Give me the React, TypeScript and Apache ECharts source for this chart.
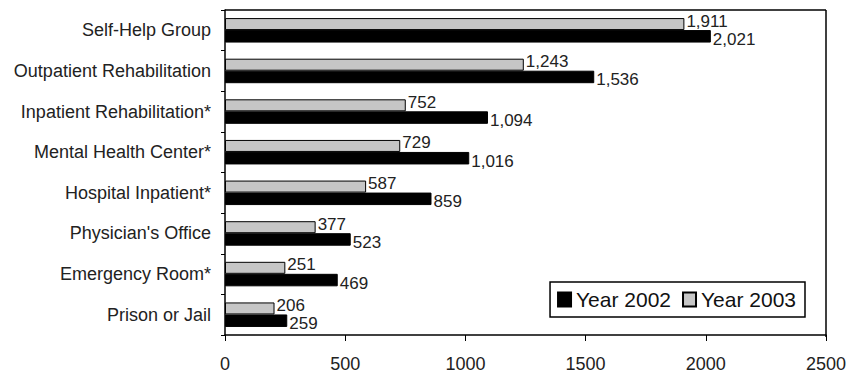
import React, { useEffect, useRef } from "react";
import * as echarts from "echarts";

const categories = [
  "Self-Help Group",
  "Outpatient Rehabilitation",
  "Inpatient Rehabilitation*",
  "Mental Health Center*",
  "Hospital Inpatient*",
  "Physician's Office",
  "Emergency Room*",
  "Prison or Jail",
];
const year2002 = [2021, 1536, 1094, 1016, 859, 523, 469, 259];
const year2003 = [1911, 1243, 752, 729, 587, 377, 251, 206];
const xTicks = [0, 500, 1000, 1500, 2000, 2500];

const FONT = "Liberation Sans, Arial, Helvetica, sans-serif";
const fmt = (v: number) => v.toLocaleString("en-US");

export default function App() {
  const ref = useRef<HTMLDivElement>(null);
  useEffect(() => {
    if (!ref.current) return;
    const chart = echarts.init(ref.current, null, { renderer: "svg" });
    chart.setOption({
      animation: false,
      backgroundColor: "#ffffff",
      grid: { left: 225, right: 23, top: 10, bottom: 36, containLabel: false },
      legend: {
        data: ["Year 2002", "Year 2003"],
        right: 44,
        bottom: 56,
        orient: "horizontal",
        itemWidth: 13,
        itemHeight: 14,
        itemGap: 11,
        padding: [7, 9, 7, 7],
        borderColor: "#000",
        borderWidth: 1.5,
        backgroundColor: "#fff",
        icon: "rect",
        textStyle: { fontFamily: FONT, fontSize: 21, color: "#111", padding: [0, 0, 0, 0] },
      },
      xAxis: {
        type: "value",
        min: 0,
        max: 2500,
        interval: 500,
        axisLine: { show: true, lineStyle: { color: "#000", width: 1.5 } },
        axisTick: { show: true, length: 6, lineStyle: { color: "#000" } },
        splitLine: { show: false },
        axisLabel: {
          fontFamily: FONT,
          fontSize: 18,
          color: "#222",
          margin: 20,
          formatter: (v: number) => (xTicks.includes(v) ? String(v) : ""),
        },
      },
      yAxis: {
        type: "category",
        data: categories,
        inverse: true,
        axisLine: { show: true, lineStyle: { color: "#000", width: 1.5 } },
        axisTick: { show: true, length: 4, lineStyle: { color: "#000" } },
        axisLabel: { fontFamily: FONT, fontSize: 18, color: "#222", margin: 14 },
      },
      graphic: [
        { type: "line", shape: { x1: 225, y1: 10, x2: 826, y2: 10 }, style: { stroke: "#000", lineWidth: 1.5 } },
        { type: "line", shape: { x1: 826, y1: 10, x2: 826, y2: 337 }, style: { stroke: "#000", lineWidth: 1.5 } },
      ],
      series: [
        {
          name: "Year 2003",
          type: "bar",
          data: year2003,
          barWidth: 12,
          barGap: "0%",
          itemStyle: { color: "#c6c6c6", borderColor: "#000", borderWidth: 1 },
          label: {
            show: true,
            position: "right",
            distance: 2,
            offset: [0, -3],
            fontFamily: FONT,
            fontSize: 17,
            color: "#222",
            formatter: (p: any) => fmt(p.value),
          },
        },
        {
          name: "Year 2002",
          type: "bar",
          data: year2002,
          barWidth: 12.5,
          barGap: "0%",
          itemStyle: { color: "#000", borderColor: "#000", borderWidth: 1 },
          label: {
            show: true,
            position: "right",
            distance: 2,
            offset: [0, 3],
            fontFamily: FONT,
            fontSize: 17,
            color: "#222",
            formatter: (p: any) => fmt(p.value),
          },
        },
      ],
    });
    return () => chart.dispose();
  }, []);
  return <div ref={ref} style={{ width: 849, height: 373, position: "absolute", left: 0, top: 0 }} />;
}
